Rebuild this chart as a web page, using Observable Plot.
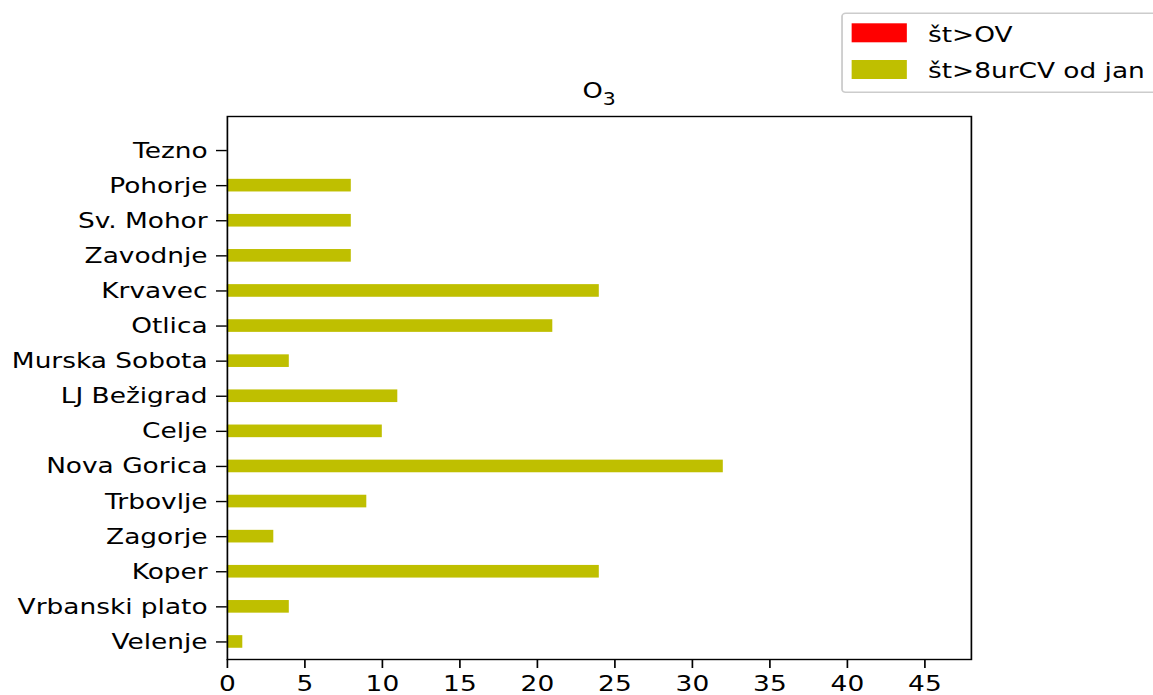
<!DOCTYPE html>
<html>
<head>
<meta charset="utf-8">
<script src="https://cdn.jsdelivr.net/npm/d3@7"></script>
<script src="https://cdn.jsdelivr.net/npm/@observablehq/plot@0.6"></script>
<style>
  html, body { margin: 0; padding: 0; background: #fff; overflow: hidden; }
  #wrap { position: relative; width: 961px; height: 695px; transform: scaleX(1.2); transform-origin: 0 0; }
  #wrap svg { display: block; }
  #overlay { position: absolute; left: 0; top: 0; pointer-events: none; }
</style>
</head>
<body>
<div id="wrap"></div>
<script>
// Stations, listed top to bottom as shown
const stations = ["Tezno", "Pohorje", "Sv. Mohor", "Zavodnje", "Krvavec", "Otlica", "Murska Sobota",
  "LJ Bežigrad", "Celje", "Nova Gorica", "Trbovlje", "Zagorje", "Koper", "Vrbanski plato", "Velenje"];
// št>OV (all zero)
const overOV = [0, 0, 0, 0, 0, 0, 0, 0, 0, 0, 0, 0, 0, 0, 0];
// št>8urCV od jan
const over8h = [0, 8, 8, 8, 24, 21, 4, 11, 10, 32, 9, 3, 24, 4, 1];
const xTicks = [0, 5, 10, 15, 20, 25, 30, 35, 40, 45];
const seriesLabels = ["št>OV", "št>8urCV od jan"];
const seriesColors = ["#ff0000", "#bfbf00"];
const titleMain = "O";
const titleSub = "3";

const n = stations.length;
const rows = stations.map((s, k) => ({station: s, pos: n - 1 - k, ov: overOV[k], cv: over8h[k]}));
const half = 0.18;

const chart = Plot.plot({
  width: 961,
  height: 695,
  marginLeft: 189,
  marginRight: 152,
  marginTop: 116,
  marginBottom: 36,
  style: {fontFamily: "DejaVu Sans", fontSize: "22px", color: "black", background: "white"},
  x: {domain: [0, 48]},
  y: {domain: [-0.5, 14.97]},
  marks: [
    Plot.rect(rows, {x1: 0, x2: "ov", y1: d => d.pos + 0.4 - half, y2: d => d.pos + 0.4 + half, fill: seriesColors[0]}),
    Plot.rect(rows, {x1: 0, x2: "cv", y1: d => d.pos - half, y2: d => d.pos + half, fill: seriesColors[1]}),
    Plot.frame({stroke: "black", strokeWidth: 1.4}),
    Plot.axisX({ticks: xTicks, tickSize: 9, tickPadding: 7, label: null, strokeWidth: 1.4, fontSize: 22, tickFormat: d => String(d)}),
    Plot.axisY({ticks: rows.map(d => d.pos), tickFormat: p => stations[n - 1 - p], tickSize: 9, tickPadding: 7.5, label: null, strokeWidth: 1.4, fontSize: 22})
  ]
});
const wrap = document.getElementById("wrap");
wrap.appendChild(chart);

// Overlay: title and matplotlib-style legend box (upper right)
const ns = "http://www.w3.org/2000/svg";
const ov = document.createElementNS(ns, "svg");
ov.setAttribute("id", "overlay");
ov.setAttribute("width", 961);
ov.setAttribute("height", 120);

const tt = document.createElementNS(ns, "text");
tt.setAttribute("x", 499.2); tt.setAttribute("y", 98);
tt.setAttribute("text-anchor", "middle");
tt.setAttribute("font-family", "DejaVu Sans"); tt.setAttribute("font-size", 21.5);
tt.setAttribute("fill", "black");
const t1 = document.createElementNS(ns, "tspan");
t1.textContent = titleMain;
const t2 = document.createElementNS(ns, "tspan");
t2.setAttribute("font-size", 17); t2.setAttribute("dy", 7);
t2.textContent = titleSub;
tt.appendChild(t1); tt.appendChild(t2);
ov.appendChild(tt);

const box = document.createElementNS(ns, "rect");
box.setAttribute("x", 701.7); box.setAttribute("y", 13.3);
box.setAttribute("width", 280); box.setAttribute("height", 79);
box.setAttribute("rx", 3); box.setAttribute("fill", "white"); box.setAttribute("fill-opacity", 0.8);
box.setAttribute("stroke", "#cccccc"); box.setAttribute("stroke-width", 1.5);
ov.appendChild(box);
const swatchY = [23.3, 60];
const textY = [42, 78.5];
seriesLabels.forEach((lab, k) => {
  const r = document.createElementNS(ns, "rect");
  r.setAttribute("x", 709.7); r.setAttribute("y", swatchY[k]);
  r.setAttribute("width", 46); r.setAttribute("height", 19);
  r.setAttribute("fill", seriesColors[k]);
  ov.appendChild(r);
  const t = document.createElementNS(ns, "text");
  t.setAttribute("x", 773.3); t.setAttribute("y", textY[k]);
  t.setAttribute("font-family", "DejaVu Sans"); t.setAttribute("font-size", 22);
  t.setAttribute("fill", "black");
  t.textContent = lab;
  ov.appendChild(t);
});
wrap.appendChild(ov);
</script>
</body>
</html>
